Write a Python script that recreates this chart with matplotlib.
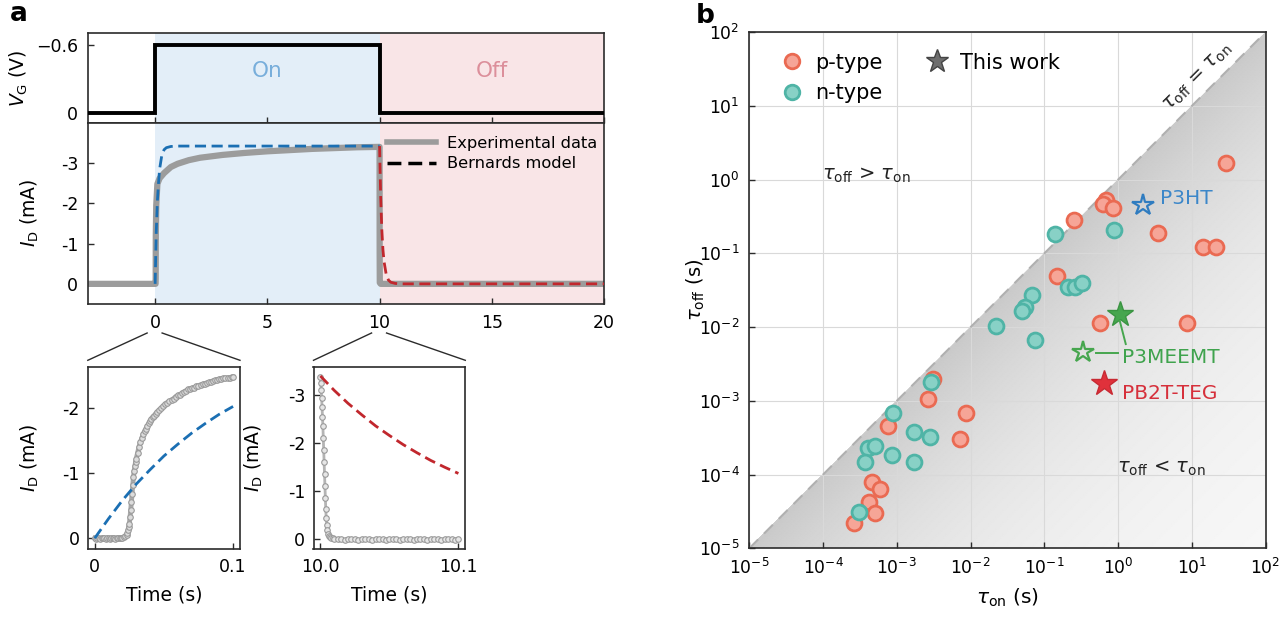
import numpy as np
import matplotlib
matplotlib.use('Agg')
import matplotlib.pyplot as plt
from matplotlib.lines import Line2D
from matplotlib.patches import Polygon

plt.rcParams['font.family'] = ['DejaVu Sans']
plt.rcParams['axes.unicode_minus'] = False
plt.rcParams['mathtext.fontset'] = 'dejavusans'
plt.rcParams['xtick.direction'] = 'in'
plt.rcParams['ytick.direction'] = 'in'

# ---------------- data: panel a ----------------
phase_edges = [0, 10, 20]
vg_t = [-3, 0, 0, 10, 10, 20]
vg_v = [0, 0, -0.6, -0.6, 0, 0]

exp_t = [-3, -0.01, 0.02, 0.025, 0.03, 0.05, 0.1, 0.2, 0.4, 0.7, 1.0, 1.5, 2.0, 3.0,
         4.0, 5.0, 6.0, 7.0, 8.0, 9.0, 10.0, 10.002, 10.004, 10.01, 10.05, 20]
exp_i = [0, 0, 0, -0.13, -1.2, -1.95, -2.48, -2.62, -2.75, -2.9, -2.98, -3.07, -3.13, -3.2,
         -3.25, -3.29, -3.32, -3.35, -3.37, -3.39, -3.40, -2.2, -0.8, -0.03, 0, 0]

model_on_t = [0, 0.05, 0.1, 0.15, 0.2, 0.3, 0.4, 0.5, 0.7, 1.0, 10.0]
model_on_i = [0, -1.3, -2.05, -2.5, -2.85, -3.2, -3.33, -3.38, -3.41, -3.42, -3.42]
model_off_t = [10.0, 10.05, 10.1, 10.15, 10.2, 10.3, 10.4, 10.5, 10.7, 11.0, 20.0]
model_off_i = [-3.42, -2.15, -1.35, -0.85, -0.55, -0.22, -0.09, -0.04, -0.01, 0, 0]

# inset 1 (turn-on, 0-0.1 s)
rise_t = [0, 0.001, 0.002, 0.003, 0.004, 0.005, 0.006, 0.007, 0.008, 0.009, 0.010, 0.011,
          0.012, 0.013, 0.014, 0.015, 0.016, 0.017, 0.018, 0.019, 0.020, 0.021, 0.022,
          0.023, 0.0235, 0.024, 0.0245, 0.025, 0.0255, 0.026, 0.0265, 0.027, 0.0275,
          0.028, 0.0285, 0.029, 0.0295, 0.030, 0.031, 0.032, 0.033, 0.034, 0.035, 0.036,
          0.037, 0.038, 0.039, 0.040, 0.041, 0.042, 0.043, 0.044, 0.045, 0.0465, 0.048,
          0.0495, 0.051, 0.0525, 0.054, 0.0555, 0.057, 0.0585, 0.060, 0.0615, 0.063,
          0.0645, 0.066, 0.0675, 0.069, 0.0705, 0.072, 0.0735, 0.075, 0.0765, 0.078,
          0.0795, 0.081, 0.0825, 0.084, 0.0855, 0.087, 0.0885, 0.090, 0.0915, 0.093,
          0.0945, 0.096, 0.0975, 0.099, 0.100]
rise_i = [0.0, 0.01, -0.01, 0.0, 0.01, 0.0, -0.01, 0.0, 0.01, -0.01, 0.0, 0.01,
          0.0, -0.01, 0.0, 0.01, 0.0, -0.01, 0.0, -0.01, -0.01, -0.02, -0.03,
          -0.05, -0.08, -0.12, -0.17, -0.22, -0.32, -0.43, -0.56, -0.68, -0.82,
          -0.94, -1.03, -1.10, -1.17, -1.22, -1.31, -1.40, -1.47, -1.53, -1.59, -1.64,
          -1.68, -1.72, -1.76, -1.80, -1.83, -1.86, -1.88, -1.91, -1.93, -1.96, -1.99,
          -2.02, -2.05, -2.08, -2.10, -2.12, -2.14, -2.17, -2.19, -2.20, -2.22,
          -2.24, -2.26, -2.28, -2.29, -2.30, -2.31, -2.33, -2.34, -2.35, -2.36,
          -2.37, -2.38, -2.39, -2.40, -2.41, -2.42, -2.43, -2.44, -2.44, -2.45,
          -2.45, -2.46, -2.46, -2.47, -2.47]
rise_model_t = [0, 0.01, 0.02, 0.03, 0.04, 0.05, 0.06, 0.07, 0.08, 0.09, 0.10]
rise_model_i = [0, -0.30, -0.58, -0.83, -1.05, -1.26, -1.44, -1.61, -1.76, -1.90, -2.02]

# inset 2 (turn-off, 10.0-10.1 s)
fall_t = [10.0, 10.0003, 10.0006, 10.0009, 10.0012, 10.0015, 10.0018, 10.0021, 10.0024,
          10.0027, 10.003, 10.0033, 10.0036, 10.0039, 10.0042, 10.0046, 10.005, 10.0055,
          10.006, 10.007, 10.008, 10.009, 10.010, 10.0125, 10.015, 10.0175, 10.020,
          10.0225, 10.025, 10.0275, 10.030, 10.0325, 10.035, 10.0375, 10.040, 10.0425,
          10.045, 10.0475, 10.050, 10.0525, 10.055, 10.0575, 10.060, 10.0625, 10.065,
          10.0675, 10.070, 10.0725, 10.075, 10.0775, 10.080, 10.0825, 10.085, 10.0875,
          10.090, 10.0925, 10.095, 10.0975, 10.100]
fall_i = [-3.38, -3.25, -3.10, -2.95, -2.75, -2.55, -2.35, -2.10, -1.85, -1.60, -1.35,
          -1.10, -0.85, -0.62, -0.44, -0.29, -0.19, -0.11, -0.07, -0.04, -0.02, -0.02,
          -0.01, 0.0, -0.01, 0.01, 0.0, -0.01, 0.0, 0.01, 0.0, -0.01, 0.0, 0.01, 0.0,
          -0.01, 0.0, 0.01, 0.0, -0.01, 0.0, 0.01, 0.0, -0.01, 0.0, 0.01, 0.0, -0.01,
          0.0, 0.01, 0.0, -0.01, 0.0, 0.01, 0.0, -0.01, 0.0, 0.01, 0.0]
fall_model_t = [10.0, 10.01, 10.02, 10.03, 10.04, 10.05, 10.06, 10.07, 10.08, 10.09, 10.10]
fall_model_i = [-3.40, -3.10, -2.83, -2.59, -2.36, -2.16, -1.97, -1.80, -1.64, -1.50, -1.37]

# ---------------- data: panel b ----------------
p_ton = [29, 0.687, 0.62, 0.863, 0.255, 3.45, 14.4, 21.3, 0.148, 0.57, 8.7,
         0.00308, 0.00264, 0.00867, 0.00718, 0.00075, 0.000458, 0.000593,
         0.000417, 0.000509, 0.00026]
p_toff = [1.7, 0.532, 0.47, 0.42, 0.285, 0.188, 0.124, 0.124, 0.05, 0.0113, 0.0113,
          0.0020, 0.00107, 0.00069, 0.0003, 0.00045, 8.0e-5, 6.3e-5,
          4.3e-5, 3.0e-5, 2.2e-5]
n_ton = [0.14, 0.88, 0.212, 0.261, 0.322, 0.0676, 0.0548, 0.0495, 0.0222, 0.0748,
         0.0029, 0.000875, 0.00171, 0.00284, 0.00041, 0.00051, 0.000865, 0.00037,
         0.00173, 0.00031]
n_toff = [0.184, 0.208, 0.0355, 0.0348, 0.0394, 0.0274, 0.0186, 0.0168, 0.0104, 0.0068,
          0.0018, 0.000686, 0.00038, 0.00032, 0.000233, 0.000243, 0.000183, 0.000149,
          0.000149, 3.1e-5]
p3ht = (2.2, 0.455)
p3meemt_lit = (0.338, 0.00466)
p3meemt_work = (1.06, 0.0151)
pb2t_work = (0.645, 0.00173)

# ---------------- styles ----------------
W, H = 1280, 626
fig = plt.figure(figsize=(W / 100, H / 100), dpi=100)
SP = '#2b2b2b'
TICK_FS = 12.5
LAB_FS = 13.5
on_fill, off_fill = '#e3eef8', '#f9e5e7'
gray_exp = '#9c9c9c'
blue_m, red_m = '#1b6fb3', '#c1272d'
p_face, p_edge = '#f6a597', '#ea6a52'
n_face, n_edge = '#88d1c6', '#4fb4a6'


def ax_px(l, t, r, b):
    return fig.add_axes([l / W, 1 - b / H, (r - l) / W, (b - t) / H])


def style(ax, fs=TICK_FS, pad=5):
    for s in ax.spines.values():
        s.set_color(SP)
        s.set_linewidth(1.2)
    ax.tick_params(length=4, width=1, color=SP, labelsize=fs, pad=pad)


axv = ax_px(87.8, 33.3, 604, 122.7)
axi = ax_px(87.8, 122.7, 604, 304)
ax1 = ax_px(87.8, 367.3, 240, 549.3)
ax2 = ax_px(313.5, 367.3, 465.3, 549.3)
axb = ax_px(749.3, 32.3, 1265.5, 548.3)

# ----- main panel a -----
for ax in (axv, axi):
    ax.axvspan(phase_edges[0], phase_edges[1], color=on_fill, lw=0, zorder=0)
    ax.axvspan(phase_edges[1], phase_edges[2], color=off_fill, lw=0, zorder=0)
    ax.set_xlim(-3, 20)
    ax.set_xticks([0, 5, 10, 15, 20])
    style(ax, pad=7)

axv.plot(vg_t, vg_v, color='black', lw=2.8, solid_joinstyle='miter', zorder=3)
axv.set_ylim(0.086, -0.703)
axv.set_yticks([-0.6, 0])
axv.set_yticklabels(['\u22120.6', '0'])
axv.tick_params(axis='x', labelbottom=False)
axv.text(5, -0.37, 'On', color='#78aedb', fontsize=15.5, ha='center', va='center')
axv.text(15, -0.37, 'Off', color='#dc8f9b', fontsize=15.5, ha='center', va='center')
axv.set_ylabel(r'$V_{\mathrm{G}}$ (V)', fontsize=LAB_FS)
axv.yaxis.set_label_coords(-0.112, 0.5)

axi.plot(exp_t, exp_i, color=gray_exp, lw=4.5, solid_capstyle='butt', zorder=2)
axi.plot(model_on_t, model_on_i, color=blue_m, lw=2, ls=(0, (4, 2)), zorder=3)
axi.plot(model_off_t, model_off_i, color=red_m, lw=2, ls=(0, (4, 2)), zorder=3)
axi.set_ylim(0.5, -4.0)
axi.set_yticks([-3, -2, -1, 0])
axi.set_ylabel(r'$I_{\mathrm{D}}$ (mA)', fontsize=LAB_FS)
axi.yaxis.set_label_coords(-0.091, 0.5)
leg_h = [Line2D([], [], color=gray_exp, lw=4),
         Line2D([], [], color='black', lw=2.5, ls=(0, (4, 2)))]
axi.legend(leg_h, ['Experimental data', 'Bernards model'], loc='upper right',
           bbox_to_anchor=(1.0, 0.965), frameon=False, fontsize=11.7,
           handlelength=3.0, handletextpad=0.7, labelspacing=0.35, borderaxespad=0)

# ----- insets -----
ax1.plot(rise_t, rise_i, color='#a9a9a9', lw=3.5, zorder=2)
ax1.plot(rise_t, rise_i, 'o', ms=4, mfc='#dcdcdc', mec='#9a9a9a', mew=0.8, zorder=3)
ax1.plot(rise_model_t, rise_model_i, color=blue_m, lw=2, ls=(0, (4, 2)), zorder=4)
ax1.set_xlim(-0.005, 0.105)
ax1.set_ylim(0.17, -2.62)
ax1.set_xticks([0, 0.1])
ax1.set_xticklabels(['0', '0.1'])
ax1.set_yticks([-2, -1, 0])
style(ax1, pad=6)

ax2.plot(fall_t, fall_i, color='#b4b4b4', lw=2.0, zorder=2)
ax2.plot(fall_t, fall_i, 'o', ms=4, mfc='#e6e6e6', mec='#9a9a9a', mew=0.8, zorder=3)
ax2.plot(fall_model_t, fall_model_i, color=red_m, lw=2, ls=(0, (4, 2)), zorder=4)
ax2.set_xlim(9.995, 10.105)
ax2.set_ylim(0.21, -3.58)
ax2.set_xticks([10.0, 10.1])
ax2.set_xticklabels(['10.0', '10.1'])
ax2.set_yticks([-3, -2, -1, 0])
style(ax2, pad=6)

for ax, xo in ((ax1, -0.307), (ax2, -0.32)):
    ax.set_ylabel(r'$I_{\mathrm{D}}$ (mA)', fontsize=LAB_FS)
    ax.yaxis.set_label_coords(xo, 0.5)
    ax.set_xlabel('Time (s)', fontsize=LAB_FS)
    ax.xaxis.set_label_coords(0.5, -0.2)

# zoom connector lines
main_bottom = axi.get_position().y0 * H
for ax, t0 in ((ax1, phase_edges[0]), (ax2, phase_edges[1])):
    xc = axi.transData.transform((t0, 0))[0]
    pos = ax.get_position()
    ytop = pos.y1 * H + 7
    ylow = main_bottom - 29
    for (xa, ya, xb, yb) in ((pos.x0 * W, ytop, xc - 8, ylow), (xc + 7, ylow, pos.x1 * W, ytop)):
        fig.add_artist(Line2D([xa / W, xb / W], [ya / H, yb / H], transform=fig.transFigure,
                              color=SP, lw=1))

# ----- panel b -----
axb.set_xscale('log')
axb.set_yscale('log')
axb.set_xlim(1e-5, 1e2)
axb.set_ylim(1e-5, 1e2)
lg = np.linspace(-5, 2, 300)
LX, LY = np.meshgrid(lg, lg)
U = np.clip(LX - LY, 0, None)
V = 0.79 + 0.20 * (1 - np.exp(-U / 3.2))
mesh = axb.pcolormesh(10 ** lg, 10 ** lg, V, cmap='gray', vmin=0, vmax=1,
                      shading='gouraud', zorder=0, rasterized=True)
tri = Polygon([(1e-5, 1e-5), (1e2, 1e2), (1e2, 1e-5)], closed=True, transform=axb.transData)
mesh.set_clip_path(tri)
axb.plot([1e-5, 1e2], [1e-5, 1e2], color='#b0b0b0', lw=1.5, ls=(0, (6, 4)), zorder=1)
axb.set_axisbelow(True)
axb.grid(True, which='major', color='#d9d9d9', lw=0.8)
axb.set_xticks([10.0 ** k for k in range(-5, 3)])
axb.set_yticks([10.0 ** k for k in range(-5, 3)])
axb.minorticks_off()
style(axb, fs=12.3, pad=7)

axb.scatter(p_ton, p_toff, s=115, facecolor=p_face, edgecolor=p_edge, lw=2, zorder=3)
axb.scatter(n_ton, n_toff, s=115, facecolor=n_face, edgecolor=n_edge, lw=2, zorder=3)
green, blue_s, red_s = '#46a64e', '#2f7cc0', '#e0313b'
axb.plot(*p3ht, marker='*', ms=16, mfc='none', mec=blue_s, mew=1.6, zorder=4)
axb.plot(*p3meemt_lit, marker='*', ms=16, mfc='none', mec=green, mew=1.6, zorder=4)
axb.plot(*p3meemt_work, marker='*', ms=19, mfc=green, mec='#3a9442', mew=1, zorder=4)
axb.plot(*pb2t_work, marker='*', ms=19, mfc=red_s, mec='#c72a33', mew=1, zorder=4)

axb.text(10 ** 0.575, 10 ** -0.252, 'P3HT', color='#3c87c9', fontsize=14.5, ha='left', va='center')
axb.text(10 ** 0.054, 10 ** -2.408, 'P3MEEMT', color='#3fa34d', fontsize=14.5, ha='left', va='center')
axb.text(10 ** 0.054, 10 ** -2.906, 'PB2T-TEG', color='#d6303b', fontsize=14.5, ha='left', va='center')
axb.plot([10 ** 0.023, 10 ** 0.105], [10 ** -1.912, 10 ** -2.229], color=green, lw=1.4, zorder=4)
axb.plot([10 ** -0.293, 10 ** 0.003], [10 ** -2.354, 10 ** -2.354], color=green, lw=1.4, zorder=4)

axb.text(10 ** -3.42, 10 ** 0.064, r'$\tau_{\mathrm{off}}$ > $\tau_{\mathrm{on}}$', fontsize=14,
         ha='center', va='center', color='#222')
axb.text(10 ** 0.583, 10 ** -3.915, r'$\tau_{\mathrm{off}}$ < $\tau_{\mathrm{on}}$', fontsize=14,
         ha='center', va='center', color='#222')
axb.text(10 ** 1.085, 10 ** 1.398, r'$\tau_{\mathrm{off}}$ = $\tau_{\mathrm{on}}$', fontsize=14,
         ha='center', va='center', rotation=45, rotation_mode='anchor', color='#222')

axb.set_xlabel(r'$\tau_{\mathrm{on}}$ (s)', fontsize=14.5)
axb.xaxis.set_label_coords(0.5, -0.075)
axb.set_ylabel(r'$\tau_{\mathrm{off}}$ (s)', fontsize=14)
axb.yaxis.set_label_coords(-0.082, 0.5)

lh = [Line2D([], [], ls='', marker='o', ms=10.5, mfc=p_face, mec=p_edge, mew=2),
      Line2D([], [], ls='', marker='o', ms=10.5, mfc=n_face, mec=n_edge, mew=2),
      Line2D([], [], ls='', marker='*', ms=17, mfc='#6e6e6e', mec='#444444', mew=1)]
axb.legend(lh, ['p-type', 'n-type', 'This work'], ncol=2, loc='upper left',
           bbox_to_anchor=(0.047, 0.977), frameon=False, fontsize=15, handlelength=1.0,
           handletextpad=0.6, columnspacing=2.1, labelspacing=0.5, borderaxespad=0)

fig.text(10 / W, 1 - 14 / H, 'a', fontsize=19, fontweight='bold', ha='left', va='center')
fig.text(696 / W, 1 - 16 / H, 'b', fontsize=19, fontweight='bold', ha='left', va='center')

fig.savefig('out.png', dpi=100)
